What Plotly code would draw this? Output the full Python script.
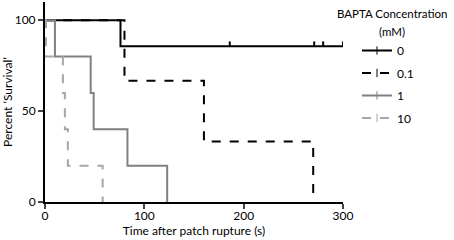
import plotly.graph_objects as go

# Kaplan-Meier step data (time in s, percent survival)
groups = ["0", "0.1", "1", "10"]
t_0 = [0, 76, 300]
s_0 = [100, 85.7, 85.7]
cens_t0 = [186, 271, 280, 300]
cens_s0 = [85.7, 85.7, 85.7, 85.7]

t_01 = [0, 80, 160, 270]
s_01 = [100, 66.7, 33.3, 0]

t_1 = [0, 10, 46, 49, 83, 123]
s_1 = [100, 80, 60, 40, 20, 0]

t_10 = [0, 1, 18, 20, 23, 58]
s_10 = [100, 80, 60, 40, 20, 0]

x_ticks = [0, 100, 200, 300]
y_ticks = [0, 50, 100]

styles = [
    dict(color="#000000", dash="solid"),
    dict(color="#000000", dash="dash"),
    dict(color="#808080", dash="solid"),
    dict(color="#a6a6a6", dash="dash"),
]
series = [(t_0, s_0), (t_01, s_01), (t_1, s_1), (t_10, s_10)]

FONT = "Lato"
ML, MR, MT, MB = 45, 111, 2, 38
fig = go.Figure()
for name, (tx, sy), st in zip(groups, series, styles):
    fig.add_trace(go.Scatter(
        x=tx, y=sy, mode="lines",
        line=dict(color=st["color"], dash=st["dash"], width=2, shape="hv"),
        showlegend=False, legendgroup=name, hoverinfo="skip",
    ))
    fig.add_trace(go.Scatter(
        x=[None], y=[None], name=name, mode="lines+markers",
        line=dict(color=st["color"], dash=st["dash"], width=2),
        marker=dict(symbol="line-ns", size=6, line=dict(color=st["color"], width=1)),
        legendgroup=name,
    ))

# censored observations: small upward ticks
fig.add_trace(go.Scatter(
    x=cens_t0, y=cens_s0, mode="markers",
    marker=dict(size=1, color="rgba(0,0,0,0)", line=dict(width=0)),
    error_y=dict(type="data", symmetric=False, array=[2.6] * len(cens_t0),
                 arrayminus=[0] * len(cens_t0), width=0, thickness=2, color="black"),
    showlegend=False, hoverinfo="skip",
))

pw, ph = 454 - ML - MR, 240 - MT - MB
fig.update_layout(
    width=454, height=240,
    margin=dict(l=ML, r=MR, t=MT, b=MB),
    plot_bgcolor="white", paper_bgcolor="white",
    font=dict(family=FONT, size=12, color="black"),
    showlegend=True,
    legend=dict(x=(357 - ML) / pw, y=(240 - MB - 36) / ph, xanchor="left", yanchor="top",
                traceorder="grouped", tracegroupgap=3.5,
                font=dict(family=FONT, size=12)),
)
for txt, px, py in [("BAPTA Concentration", 392, 13), ("(mM)", 392, 31)]:
    fig.add_annotation(text=txt, x=(px - ML) / pw, y=(240 - MB - py) / ph,
                       xref="paper", yref="paper", xanchor="center", yanchor="middle",
                       showarrow=False, font=dict(family=FONT, size=11.5))

fig.update_xaxes(range=[0, 300], tickvals=x_ticks, ticks="outside", ticklen=5, tickwidth=2,
                 showline=True, linewidth=2, linecolor="black", showgrid=False, zeroline=False,
                 ticklabelstandoff=-3,
                 title=dict(text="Time after patch rupture (s)", standoff=0, font=dict(size=12)),
                 tickfont=dict(size=12))
fig.update_yaxes(range=[0, 110], tickvals=y_ticks, ticks="outside", ticklen=5, tickwidth=2,
                 showline=True, linewidth=2, linecolor="black", showgrid=False, zeroline=False,
                 title=dict(text="Percent ‘Survival’", standoff=4, font=dict(size=12)),
                 tickfont=dict(size=12))

fig.write_html("out.html", config={"displayModeBar": False},
               post_script="document.body.style.margin='0';")
